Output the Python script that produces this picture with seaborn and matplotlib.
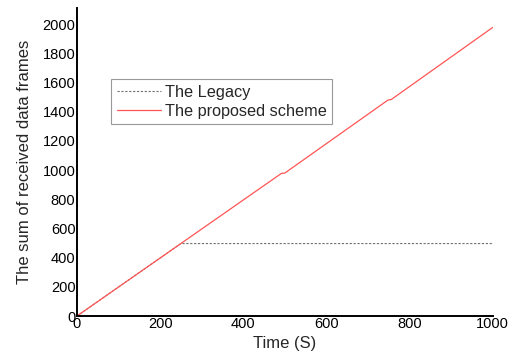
import matplotlib
matplotlib.use("Agg")
import matplotlib.pyplot as plt
import seaborn as sns
import pandas as pd

# Received-frame totals over time for each scheme
legacy_time = [0, 250, 1000]
legacy_frames = [0, 497, 497]
proposed_time = [0, 250, 492, 500, 748, 756, 1000]
proposed_frames = [0, 497, 978, 980, 1480, 1484, 1978]

x_ticks = [0, 200, 400, 600, 800, 1000]
y_ticks = [0, 200, 400, 600, 800, 1000, 1200, 1400, 1600, 1800, 2000]

sns.set_style("white")
plt.rcParams["font.family"] = ["Liberation Sans", "DejaVu Sans"]

legacy = pd.DataFrame({"t": legacy_time, "v": legacy_frames})
proposed = pd.DataFrame({"t": proposed_time, "v": proposed_frames})

fig = plt.figure(figsize=(5.16, 3.52), dpi=100)
ax = fig.add_axes([0.149, 0.102, 0.806, 0.875])

sns.lineplot(data=legacy, x="t", y="v", ax=ax, color="#707070",
             linestyle=(0, (2, 1.5)), linewidth=0.8, label="The Legacy")
sns.lineplot(data=proposed, x="t", y="v", ax=ax, color="#ff5555",
             linewidth=0.9, label="The proposed scheme")

ax.set_xlim(0, 1000)
ax.set_ylim(0, 2110)
ax.set_xticks(x_ticks)
ax.set_yticks(y_ticks)
ax.tick_params(axis="both", length=0, labelsize=10.5, pad=1, colors="black")
for side in ("top", "right"):
    ax.spines[side].set_visible(False)
for side in ("left", "bottom"):
    ax.spines[side].set_color("black")
    ax.spines[side].set_linewidth(1.4)

ax.set_xlabel("Time (S)", fontsize=12, labelpad=3)
ax.set_ylabel("The sum of received data frames", fontsize=12, labelpad=8)

leg = ax.legend(loc="upper left", bbox_to_anchor=(0.082, 0.77), fontsize=11.7,
                frameon=True, fancybox=False, edgecolor="#808080",
                handlelength=2.7, handletextpad=0.25, borderpad=0.35,
                labelspacing=0.25, borderaxespad=0)
leg.get_frame().set_linewidth(0.8)

fig.savefig("out.png", dpi=100)
